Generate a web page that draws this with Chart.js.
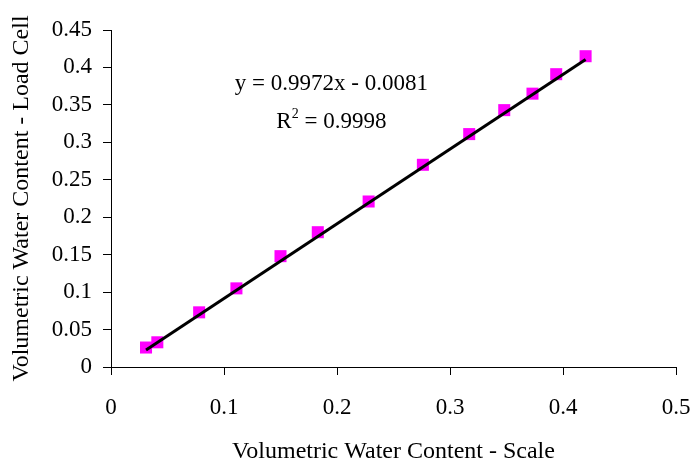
<!DOCTYPE html>
<html>
<head>
<meta charset="utf-8">
<script src="https://cdn.jsdelivr.net/npm/chart.js@4"></script>
<style>
	html, body { margin: 0; padding: 0; background: #fff; }
	#wrap { width: 691px; height: 466px; }
</style>
</head>
<body>
<div id="wrap"><canvas id="chart" width="691" height="466"></canvas></div>
<script>
// measured points: scale vs load cell
const scaleVwc = [0.031, 0.041, 0.078, 0.111, 0.150, 0.183, 0.228, 0.276, 0.317, 0.348, 0.373, 0.394, 0.420];
const loadCellVwc = [0.026, 0.033, 0.073, 0.105, 0.148, 0.180, 0.221, 0.270, 0.311, 0.343, 0.365, 0.391, 0.415];

// linear trendline as printed on the chart
const slope = 0.9972;
const intercept = -0.0081;
const r2 = 0.9998;
const trendX = [0.031, 0.420];

const xTicks = [0, 0.1, 0.2, 0.3, 0.4, 0.5];
const yTicks = [0, 0.05, 0.1, 0.15, 0.2, 0.25, 0.3, 0.35, 0.4, 0.45];

const FONT = "'Liberation Serif', 'Times New Roman', serif";
const SIZE = 23;
const TITLE_SIZE = 24;

const points = scaleVwc.map((x, i) => ({ x: x, y: loadCellVwc[i] }));
const trend = trendX.map((x) => ({ x: x, y: slope * x + intercept }));

const equationLabel = {
	id: "equationLabel",
	afterDraw(chart) {
		const ctx = chart.ctx;
		const xs = chart.scales.x;
		const ys = chart.scales.y;
		const cx = xs.getPixelForValue(0.195);
		const big = SIZE + "px " + FONT;
		const small = "14px " + FONT;
		ctx.save();
		ctx.fillStyle = "#000";
		ctx.textBaseline = "alphabetic";
		ctx.font = big;
		ctx.textAlign = "center";
		ctx.fillText("y = " + slope + "x - " + Math.abs(intercept).toFixed(4), cx, ys.getPixelForValue(0.37));

		// R² line with a raised 2
		const base = ys.getPixelForValue(0.319);
		const partA = "R";
		const partB = " = " + r2;
		ctx.font = big;
		const wA = ctx.measureText(partA).width;
		const wB = ctx.measureText(partB).width;
		ctx.font = small;
		const wS = ctx.measureText("2").width;
		const x0 = cx - (wA + wS + wB) / 2;
		ctx.textAlign = "left";
		ctx.font = big;
		ctx.fillText(partA, x0, base);
		ctx.font = small;
		ctx.fillText("2", x0 + wA, base - 10);
		ctx.font = big;
		ctx.fillText(partB, x0 + wA + wS, base);
		ctx.restore();
	},
};

new Chart(document.getElementById("chart"), {
	type: "scatter",
	data: {
		datasets: [
			{
				type: "line",
				label: "Linear",
				data: trend,
				borderColor: "#000",
				borderWidth: 3,
				pointRadius: 0,
				fill: false,
				order: 0,
			},
			{
				label: "Data",
				data: points,
				pointStyle: "rect",
				pointRadius: 8.5,
				pointBackgroundColor: "#ff00ff",
				pointBorderColor: "#ff00ff",
				pointBorderWidth: 0,
				order: 1,
			},
		],
	},
	options: {
		responsive: false,
		animation: false,
		layout: { padding: { top: 30, right: 15, bottom: 0, left: 0 } },
		plugins: {
			legend: { display: false },
			tooltip: { enabled: false },
		},
		scales: {
			x: {
				type: "linear",
				min: 0,
				max: 0.5,
				afterBuildTicks: (scale) => {
					scale.ticks = xTicks.map((v) => ({ value: v }));
				},
				afterFit: (scale) => {
					scale.height = 99;
					scale.paddingLeft = 0;
					scale.paddingRight = 0;
				},
				ticks: {
					color: "#000",
					font: { family: FONT, size: SIZE },
					padding: 19,
					maxRotation: 0,
					callback: (v) => String(v),
				},
				grid: {
					drawOnChartArea: false,
					drawTicks: true,
					tickLength: 8,
					color: "#000",
				},
				border: { display: true, color: "#000", width: 1 },
				title: {
					display: true,
					text: "Volumetric Water Content - Scale",
					color: "#000",
					font: { family: FONT, size: TITLE_SIZE },
					padding: { top: 0, bottom: 0 },
				},
			},
			y: {
				type: "linear",
				min: 0,
				max: 0.45,
				afterBuildTicks: (scale) => {
					scale.ticks = yTicks.map((v) => ({ value: v }));
				},
				afterFit: (scale) => {
					scale.width = 111;
					scale.paddingTop = 0;
					scale.paddingBottom = 0;
				},
				ticks: {
					color: "#000",
					font: { family: FONT, size: SIZE },
					padding: 11,
					callback: (v) => String(v),
				},
				grid: {
					drawOnChartArea: false,
					drawTicks: true,
					tickLength: 8,
					color: "#000",
				},
				border: { display: true, color: "#000", width: 1 },
				title: {
					display: true,
					text: "Volumetric Water Content - Load Cell",
					color: "#000",
					font: { family: FONT, size: TITLE_SIZE },
					padding: { top: 7, bottom: 0 },
				},
			},
		},
	},
	plugins: [equationLabel],
});
</script>
</body>
</html>
